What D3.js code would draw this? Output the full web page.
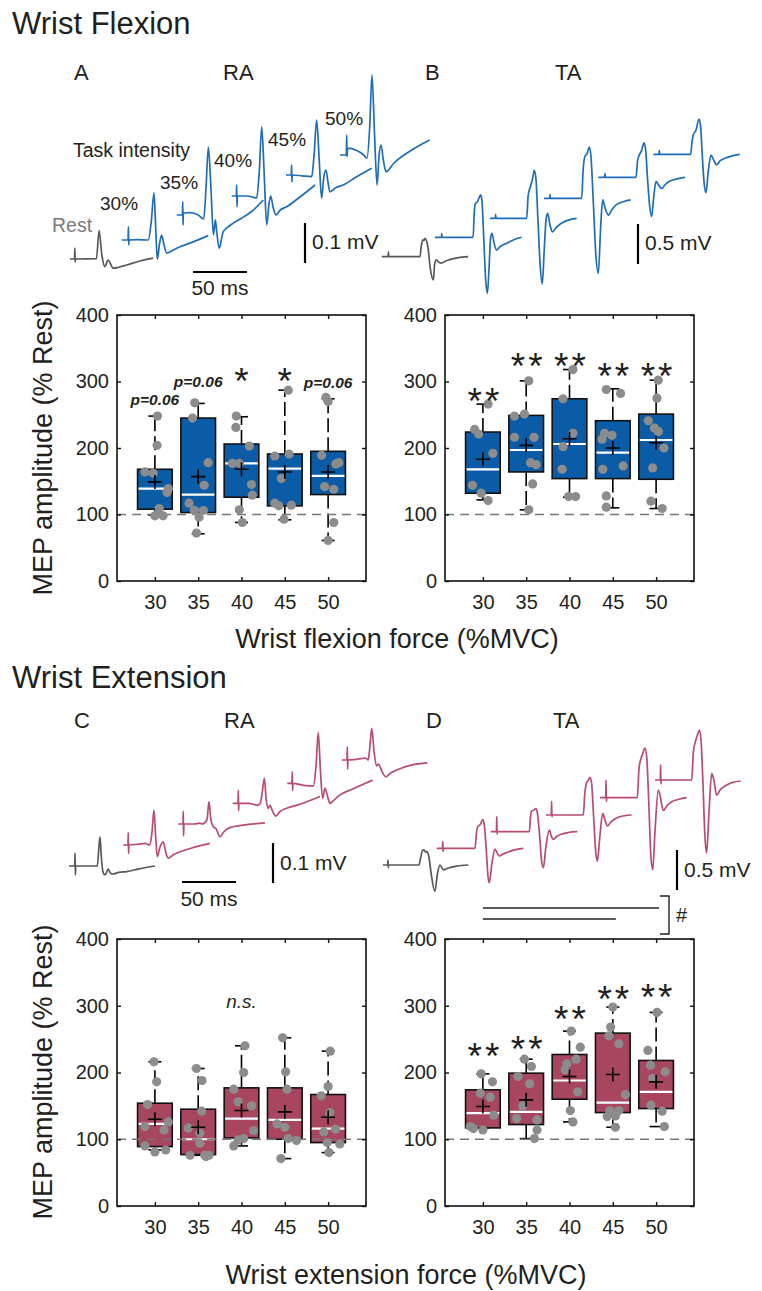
<!DOCTYPE html>
<html>
<head>
<meta charset="utf-8">
<script src="https://cdn.jsdelivr.net/npm/d3@7"></script>
<style>
  body { margin: 0; background: #fff; }
  svg { display: block; }
  text { font-family: "Liberation Sans", Arial, Helvetica, sans-serif; fill: #231f20; }
</style>
</head>
<body>
<svg id="fig" width="762" height="1291"></svg>
<script>
// ---------------- Data ----------------
const forceLevels = [30, 35, 40, 45, 50];
const yTicks = [0, 100, 200, 300, 400];

// Wrist flexion, RA: box statistics (% Rest)
const flexRaLower  = [99, 71, 88, 92, 61];
const flexRaQ1     = [108, 103, 126, 113, 130];
const flexRaMedian = [139, 130, 177, 169, 158];
const flexRaQ3     = [168, 245, 206, 191, 195];
const flexRaUpper  = [248, 267, 247, 287, 274];
const flexRaMean   = [149, 157, 168, 164, 164];
// individual subjects: [horizontal jitter (category units), value]
const flexRaPoints = [
  [[0.06,248],[0.05,204],[-0.23,164],[-0.04,162],[0.31,139],[0.28,133],[0.1,109],[0.08,102],[0,98],[0.19,98]],
  [[-0.08,268],[-0.13,245],[0.23,178],[0.14,144],[-0.21,117],[-0.09,106],[0.12,106],[0.02,96],[-0.04,72]],
  [[-0.12,248],[-0.13,231],[0.18,203],[-0.21,177],[-0.05,177],[0.23,145],[0.25,129],[-0.05,107],[0.02,88]],
  [[0.08,287],[0.1,191],[-0.23,188],[-0.08,154],[-0.23,117],[-0.14,113],[0.15,114],[-0.02,93]],
  [[-0.05,276],[0,270],[-0.15,189],[0.25,178],[0.18,176],[-0.08,142],[0.13,138],[0.13,88],[0,61]]
];
const flexRaMarks   = ["p=0.06", "p=0.06", "*", "*", "p=0.06"];
const flexRaMarkAt  = [272, 299, 313, 313, 298];

// Wrist flexion, TA
const flexTaLower  = [122, 107, 126, 110, 109];
const flexTaQ1     = [132, 164, 154, 154, 153];
const flexTaMedian = [168, 197, 206, 193, 212];
const flexTaQ3     = [224, 249, 274, 241, 251];
const flexTaUpper  = [266, 301, 318, 289, 302];
const flexTaMean   = [183, 204, 214, 200, 208];
const flexTaPoints = [
  [[0.12,266],[-0.19,228],[-0.1,221],[0.23,192],[-0.24,144],[-0.04,132],[0.12,121]],
  [[0.06,301],[-0.27,248],[-0.04,251],[-0.27,216],[0.18,216],[0.1,178],[0.23,175],[0.15,146],[0.06,107]],
  [[0.08,318],[-0.15,274],[0.08,222],[-0.15,202],[-0.17,168],[-0.02,127],[0.14,127]],
  [[-0.15,288],[0.18,282],[-0.19,222],[-0.02,219],[-0.25,213],[0.24,173],[-0.23,168],[-0.15,128],[-0.15,111]],
  [[0.05,302],[0.02,275],[-0.18,241],[-0.04,230],[0.05,225],[0.18,200],[-0.08,170],[-0.12,120],[0.14,109]]
];
const flexTaMarks  = ["**", "**", "**", "**", "**"];
const flexTaMarkAt = [282, 336, 336, 320, 321];

// Wrist extension, RA
const extRaLower  = [84, 76, 90, 71, 80];
const extRaQ1     = [89, 77, 102, 100, 95];
const extRaMedian = [123, 100, 131, 129, 116];
const extRaQ3     = [154, 145, 177, 177, 167];
const extRaUpper  = [216, 206, 240, 252, 232];
const extRaMean   = [130, 118, 143, 141, 133];
const extRaPoints = [
  [[-0.02,216],[0.04,186],[-0.17,152],[0.31,126],[0.21,114],[-0.23,119],[-0.23,90],[0,81],[0.25,84]],
  [[-0.04,206],[0.09,188],[0.08,142],[-0.23,117],[0.04,109],[-0.19,76],[0.04,94],[0.15,76],[0.25,76],[0.18,74]],
  [[0.08,240],[0.05,200],[-0.18,175],[-0.08,156],[0.23,150],[0.28,113],[0.05,101],[-0.08,99],[-0.18,90]],
  [[-0.05,252],[0.02,201],[0.05,175],[-0.18,123],[0,118],[0.08,101],[0.27,98],[-0.09,71]],
  [[0.05,232],[0,179],[-0.16,165],[0.04,140],[0.17,115],[-0.1,111],[-0.02,95],[0.27,93],[0.02,80]]
];

// Wrist extension, TA
const extTaLower  = [117, 101, 126, 118, 119];
const extTaQ1     = [117, 122, 160, 140, 146];
const extTaMedian = [139, 141, 188, 155, 171];
const extTaQ3     = [174, 199, 227, 259, 218];
const extTaUpper  = [198, 220, 262, 298, 290];
const extTaMean   = [149, 159, 194, 197, 186];
const extTaPoints = [
  [[-0.04,198],[0.22,186],[-0.06,169],[0.17,163],[0.25,136],[-0.29,119],[-0.22,116],[0,114]],
  [[-0.04,220],[0.12,209],[-0.19,194],[0.08,183],[-0.08,150],[-0.22,131],[0.25,129],[0.25,114],[0.19,101]],
  [[0.04,262],[0.25,238],[0.15,220],[-0.06,213],[-0.1,204],[0.19,171],[0.02,143],[0.08,126]],
  [[0,298],[-0.05,268],[-0.09,255],[0.14,243],[0.29,167],[-0.07,143],[0.14,143],[0.06,135],[-0.13,134],[0.06,118]],
  [[0.02,290],[-0.19,233],[-0.13,211],[0.21,201],[-0.08,191],[-0.12,151],[0.14,142],[0.19,119]]
];
const extTaMarks  = ["**", "**", "**", "**", "**"];
const extTaMarkAt = [237, 247, 292, 322, 325];

// Representative MEP traces: [time (ms), amplitude (mV)], relative to sweep start
const flexRaTraces = [
  [[0,0],[4.2,0],[4.5,0.027],[4.8,-0.008],[5.1,0],[24.5,0.001],[26.9,0.071],[29.5,0.01],[32.2,-0.019],[35.3,-0.003],[40,-0.023],[46,-0.02],[52.5,-0.015],[64.8,-0.005],[77,0.002]],
  [[0,0],[5.9,0],[6.2,0.033],[6.5,-0.0125],[6.8,0],[15,0.001],[24.6,0],[27.5,0.05],[29.9,0.118],[31.5,0.03],[33,-0.048],[35,-0.01],[37,0.0125],[39,-0.01],[41.7,-0.033],[47,-0.026],[54,-0.017],[65,-0.006],[80.2,0.011]],
  [[0,0],[5.3,0],[5.6,0.033],[5.9,-0.025],[6.2,0.005],[12,0.006],[20,0],[25,-0.01],[27,0.06],[29.3,0.17],[31.5,0.08],[34,-0.05],[35.8,-0.012],[37,-0.04],[39.4,-0.083],[43,-0.042],[50,-0.025],[60,-0.008],[70,0.01],[80.2,0.0375]],
  [[0,0],[4.3,0],[4.6,0.0275],[4.9,-0.027],[5.2,0],[15,0],[23.1,-0.005],[25.5,0.06],[27.8,0.173],[30,0.06],[32.4,-0.0725],[34.5,-0.02],[36.1,0],[38.5,-0.03],[41,-0.0475],[45,-0.035],[50.9,-0.027],[62,-0.005],[77.2,0.0275]],
  [[0,0],[4.9,0],[5.2,0.025],[5.5,-0.017],[5.8,0],[15,-0.002],[23.8,-0.004],[26,0.05],[28.4,0.1375],[30.7,0.04],[33,-0.058],[35,-0.005],[37,0.0125],[39,-0.02],[40.7,-0.042],[46,-0.032],[53,-0.025],[65,-0.005],[79.3,0.017]],
  [[0,0],[5.9,0],[6.2,0.05],[6.5,-0.004],[7,0.017],[15,0.012],[22,0],[25,-0.008],[27.5,0.07],[29.6,0.2],[32,0.05],[34.3,-0.075],[36.2,0],[38,0.025],[40,-0.01],[42.6,-0.042],[50,-0.02],[65,0.01],[83,0.0375]]
];
const flexTaTraces = [
  [[0,0],[5.9,0],[6.2,0.06],[6.5,0],[20,0],[35.5,0],[36.5,0.12],[38,0.21],[39,0.2],[40,0.23],[41.5,0.2],[43,0.1],[45,-0.15],[47.8,-0.29],[49,-0.1],[50.5,-0.04],[53,-0.07],[55,-0.08],[60,-0.05],[70,-0.015],[80,0]],
  [[0,0],[6,0],[6.2,0.05],[6.5,0],[35.3,0],[36.3,0.3],[37.3,0.42],[39.5,0.45],[41,0.5],[42.3,0.53],[43.5,0.45],[45.4,-0.1],[47,-0.55],[48.5,-0.7],[50,-0.4],[51.5,0],[52.8,0.05],[54.5,-0.06],[57,-0.16],[60,-0.12],[66.4,-0.075],[73,-0.03],[80.2,0]],
  [[0,0],[5,0],[5.2,0.05],[5.5,0],[34,0],[35.3,0.28],[37.7,0.41],[39.5,0.5],[41,0.6],[42.5,0.5],[44.5,-0.05],[46.5,-0.6],[48.4,-0.82],[50.2,-0.4],[52,0],[53.4,0.0625],[55.5,-0.08],[57.7,-0.17],[61,-0.12],[66,-0.0625],[73,-0.02],[80.2,0]],
  [[0,0],[5.4,0],[5.6,0.05],[5.9,0],[34.9,0],[36.2,0.35],[37.8,0.52],[40,0.56],[42,0.64],[43.5,0.52],[45.5,0],[48,-0.7],[50.3,-0.94],[52.5,-0.35],[54.3,-0.02],[56.5,-0.12],[59.6,-0.21],[63,-0.14],[67,-0.08],[74,-0.04],[80.3,-0.02]],
  [[0,0],[6,0],[6.2,0.05],[6.5,0],[34.9,0],[36.3,0.2],[38,0.28],[40,0.33],[42.3,0.43],[43.8,0.35],[45.5,0],[47.5,-0.35],[49.4,-0.49],[51.3,-0.25],[53.4,-0.05],[55.5,-0.09],[58.6,-0.14],[62,-0.09],[66,-0.05],[73,-0.02],[80.2,0]],
  [[0,0],[5.4,0],[5.6,0.05],[5.9,0],[34.6,0],[35.8,0.15],[37,0.24],[39.5,0.3],[42.3,0.44],[43.8,0.35],[45.3,0],[47,-0.35],[48.8,-0.48],[51,-0.2],[53.4,-0.01],[55.5,-0.06],[58.6,-0.13],[62,-0.08],[66.4,-0.05],[73,-0.02],[80,0]]
];
const extRaTraces = [
  [[0,0],[5.3,0],[5.6,0.032],[5.9,-0.0225],[6.2,0],[20,0],[26.2,0],[27.5,0.04],[28.7,0.073],[30,0.02],[31.5,-0.015],[33.3,-0.0225],[36.4,-0.008],[38.5,-0.018],[41,-0.02],[46,-0.016],[53.4,-0.014],[65,-0.007],[79.6,0]],
  [[0,0],[4.3,0],[4.6,0.031],[4.9,-0.021],[5.2,0],[14,0.002],[20,0.004],[24.5,0],[26.5,0.03],[28.4,0.0875],[30,0.02],[31.5,-0.029],[34,-0.005],[37,0.008],[39.5,-0.02],[41.7,-0.033],[46,-0.025],[52.5,-0.017],[65,-0.006],[80.2,0.004]],
  [[0,0],[4.3,0],[4.6,0.0325],[4.9,-0.03],[5.2,0],[15,0],[20,0.002],[22,0],[26.5,0.01],[28.4,0.056],[30.2,0.01],[32.4,-0.007],[35,-0.012],[38.6,-0.032],[42,-0.02],[47.8,-0.009],[60,-0.003],[80.2,0.003]],
  [[0,0],[4.9,0],[5.2,0.033],[5.5,-0.018],[5.8,0],[15,0],[23,-0.005],[25.5,0],[27.5,0.03],[29.3,0.0625],[31,0.01],[33,-0.0125],[34.5,-0.005],[37,-0.02],[39.8,-0.032],[44,-0.02],[50,-0.0125],[65,0],[80.9,0.017]],
  [[0,0],[4.3,0],[4.6,0.029],[4.9,-0.018],[5.2,0],[15,-0.005],[24,-0.007],[26.5,0.04],[28.7,0.127],[30.7,0.03],[32.7,-0.0375],[34.9,-0.0125],[37,-0.03],[39.5,-0.05],[44,-0.04],[48.8,-0.029],[60,-0.015],[79,0.008]],
  [[0,0],[4.9,0],[5.2,0.033],[5.5,-0.023],[5.8,0],[15,0.002],[22,0.005],[24.5,0],[26,0.03],[27.8,0.079],[30,0.02],[32.4,-0.015],[34,-0.01],[37.5,-0.03],[41,-0.042],[45,-0.033],[50.9,-0.025],[65,-0.012],[79.3,-0.007]]
];
const extTaTraces = [
  [[0,0],[4.3,0],[4.6,0.06],[4.9,-0.03],[5.2,0],[33.3,0],[35,0.1],[36.5,0.18],[38,0.19],[39.5,0.16],[40.7,0.17],[42.5,0.1],[44.5,-0.1],[48,-0.33],[50.5,-0.1],[52.8,0],[55.9,-0.06],[60,-0.04],[68,-0.015],[79,0]],
  [[0,0],[5.3,0],[5.6,0.083],[5.9,-0.04],[6.2,0],[35.5,0],[36.7,0.18],[38,0.27],[40.5,0.3],[42.6,0.36],[44,0.3],[45.8,0],[47.5,-0.35],[48.8,-0.43],[51,-0.2],[54,-0.01],[56,-0.06],[58,-0.096],[61,-0.075],[64.8,-0.054],[72,-0.02],[80.2,0]],
  [[0,0],[5.3,0],[5.6,0.19],[5.9,-0.03],[6.2,0],[35.8,0],[36.8,0.18],[38,0.26],[40,0.27],[41.7,0.29],[43,0.25],[45,0],[47,-0.35],[48.8,-0.45],[51,-0.2],[54.3,0.02],[56,-0.05],[58,-0.096],[61,-0.06],[65.7,-0.03],[72,-0.01],[80.2,0]],
  [[0,0],[4.9,0],[5.2,0.17],[5.5,-0.02],[5.8,0],[34.6,0],[35.8,0.25],[37.5,0.4],[39,0.43],[40.7,0.47],[42.2,0.4],[44,0],[46,-0.45],[47.5,-0.58],[50,-0.25],[52.5,0.02],[54.5,-0.06],[56.8,-0.1375],[60,-0.09],[64.8,-0.04],[72,-0.01],[79.3,0]],
  [[0,0],[5.3,0],[5.6,0.22],[5.9,-0.05],[6.2,0],[34.6,0],[36,0.35],[37.5,0.47],[39.5,0.55],[41.7,0.62],[43.3,0.5],[45,0],[47,-0.7],[48.8,-0.9],[51,-0.4],[54,0.096],[56,0],[58.6,-0.16],[62,-0.1],[66.4,-0.05],[73,-0.02],[80.2,0]],
  [[0,0],[4.9,0],[5.2,0.19],[5.5,-0.05],[5.8,0],[34,0],[35.5,0.35],[37,0.46],[39,0.55],[41,0.62],[42.6,0.5],[44.3,0],[46.2,-0.7],[47.8,-0.91],[50,-0.4],[52.5,0.083],[54.5,0],[57.1,-0.19],[60.5,-0.12],[64.8,-0.075],[72,-0.03],[79.3,-0.0125]]
];
const intensityLabels = ["30%", "35%", "40%", "45%", "50%"];

// ---------------- Layout ----------------
const BLUE_BOX = "#0b5ca7", BLUE_TRACE = "#1f6db6";
const RED_BOX = "#a8465f", RED_TRACE = "#b94c6e";
const REST_TRACE = "#595959";

const svg = d3.select("#fig");
svg.append("rect").attr("width", 762).attr("height", 1291).attr("fill", "#fff");

function txt(x, y, s, size, opts = {}) {
  const t = svg.append("text").attr("x", x).attr("y", y).text(s)
    .attr("font-size", size);
  if (opts.anchor) t.attr("text-anchor", opts.anchor);
  if (opts.weight) t.attr("font-weight", opts.weight);
  if (opts.style) t.attr("font-style", opts.style);
  if (opts.fill) t.style("fill", opts.fill);
  if (opts.transform) t.attr("transform", opts.transform);
  return t;
}

// ---------- MEP trace panels ----------
const timeScale = d3.scaleLinear().domain([0, 50]).range([0, 54]);
const raVolt = d3.scaleLinear().domain([0, 0.1]).range([0, -40]);
const taVolt = d3.scaleLinear().domain([0, 0.5]).range([0, -40]);

function tracePanel(traces, origins, vScale, color) {
  const line = d3.line().x(d => timeScale(d[0])).y(d => vScale(d[1])).curve(d3.curveMonotoneX);
  traces.forEach((tr, i) => {
    svg.append("path")
      .attr("transform", `translate(${origins[i][0]},${origins[i][1]})`)
      .attr("d", line(tr))
      .attr("fill", "none")
      .attr("stroke", i === 0 ? REST_TRACE : color)
      .attr("stroke-width", 1.7)
      .attr("stroke-linejoin", "round");
  });
}
function timeBar(x, y, labelY) {
  svg.append("line").attr("x1", x).attr("x2", x + timeScale(50)).attr("y1", y).attr("y2", y)
    .attr("stroke", "#000").attr("stroke-width", 2.2);
  txt(x + timeScale(50) / 2, labelY, "50 ms", 21, { anchor: "middle" });
}
function voltBar(x, yBottom, vScale, amount, label, labelY) {
  svg.append("line").attr("x1", x).attr("x2", x).attr("y1", yBottom).attr("y2", yBottom + vScale(amount))
    .attr("stroke", "#000").attr("stroke-width", 2.2);
  txt(x + 7, labelY, label, 21);
}

// Titles and panel letters
txt(12, 34, "Wrist Flexion", 31);
txt(12, 688, "Wrist Extension", 31);
txt(74, 80, "A", 22); txt(223, 80, "RA", 22);
txt(425, 80, "B", 22); txt(555, 80, "TA", 22);
txt(74, 728, "C", 22); txt(224, 728, "RA", 22);
txt(426, 728, "D", 22); txt(553, 728, "TA", 22);

tracePanel(flexRaTraces, [[70,259],[121.7,240],[176.7,215],[231.7,196],[286,175],[340,155]], raVolt, BLUE_TRACE);
tracePanel(flexTaTraces, [[381.7,256.7],[435,237.3],[490,218.3],[544,198.3],[598.3,177.3],[653.3,154.3]], taVolt, BLUE_TRACE);
tracePanel(extRaTraces, [[69,866],[123.3,845],[178.3,824],[232.7,803.3],[287.3,783.3],[341.7,760]], raVolt, RED_TRACE);
tracePanel(extTaTraces, [[383,865],[436.7,848.3],[490.7,831.7],[546,815],[600,797.7],[655,780]], taVolt, RED_TRACE);

// Intensity labels for panel A
txt(73, 157, "Task intensity", 19.5);
txt(52, 232, "Rest", 19.5, { fill: "#7a7a7a" });
[[100,210],[160,189],[214,167],[268,146],[325,125]].forEach((p, i) => txt(p[0], p[1], intensityLabels[i], 19));

// Scale bars
timeBar(193, 272, 295);
voltBar(305, 263, raVolt, 0.1, "0.1 mV", 249);
voltBar(638, 264, taVolt, 0.5, "0.5 mV", 250);
timeBar(182, 882, 906);
voltBar(273, 883, raVolt, 0.1, "0.1 mV", 870);
voltBar(677, 890, taVolt, 0.5, "0.5 mV", 877);

// ---------- Box plot panels ----------
function boxPanel(frame, lower, q1, med, q3, upper, mean, points, color) {
  const x = d3.scaleLinear().domain([0.125, 5.875]).range([frame.left, frame.right]);
  const y = d3.scaleLinear().domain([0, 400]).range([frame.bottom, frame.top]);
  const g = svg.append("g");
  const pos = i => x(i + 1);
  const half = x(0.4) - x(0);
  const cap = 6.5;

  forceLevels.forEach((lvl, i) => {
    const cx = pos(i);
    // whiskers
    [[q3[i], upper[i]], [q1[i], lower[i]]].forEach(([a, b]) => {
      g.append("line").attr("x1", cx).attr("x2", cx).attr("y1", y(a)).attr("y2", y(b))
        .attr("stroke", "#000").attr("stroke-width", 1.6).attr("stroke-dasharray", "14,5");
      g.append("line").attr("x1", cx - cap).attr("x2", cx + cap).attr("y1", y(b)).attr("y2", y(b))
        .attr("stroke", "#000").attr("stroke-width", 1.6);
    });
    // box
    g.append("rect").attr("x", cx - half).attr("width", 2 * half)
      .attr("y", y(q3[i])).attr("height", y(q1[i]) - y(q3[i]))
      .attr("fill", color).attr("stroke", "#111").attr("stroke-width", 1.6);
    g.append("line").attr("x1", cx - half + 1).attr("x2", cx + half - 1)
      .attr("y1", y(med[i])).attr("y2", y(med[i]))
      .attr("stroke", "#fff").attr("stroke-width", 2.2);
  });

  // reference line at resting level
  g.append("line").attr("x1", frame.left).attr("x2", frame.right).attr("y1", y(100)).attr("y2", y(100))
    .attr("stroke", "#767676").attr("stroke-width", 1.7).attr("stroke-dasharray", "9,6");

  forceLevels.forEach((lvl, i) => {
    g.selectAll(null).data(points[i]).join("circle")
      .attr("cx", d => pos(i) + (x(d[0]) - x(0))).attr("cy", d => y(d[1]))
      .attr("r", 4.6).attr("fill", "#8c8c8c");
  });
  forceLevels.forEach((lvl, i) => {
    const cx = pos(i), cy = y(mean[i]);
    g.append("path").attr("d", `M${cx - 7},${cy}H${cx + 7}M${cx},${cy - 7}V${cy + 7}`)
      .attr("stroke", "#000").attr("stroke-width", 1.6);
  });

  // axes with inward ticks on all four sides
  const left = g.append("g").attr("transform", `translate(${frame.left},0)`)
    .call(d3.axisLeft(y).tickValues(yTicks).tickSizeInner(-4).tickSizeOuter(0).tickPadding(8));
  const right = g.append("g").attr("transform", `translate(${frame.right},0)`)
    .call(d3.axisRight(y).tickValues(yTicks).tickSizeInner(-4).tickSizeOuter(0).tickFormat(""));
  const bottom = g.append("g").attr("transform", `translate(0,${frame.bottom})`)
    .call(d3.axisBottom(x).tickValues([1, 2, 3, 4, 5]).tickFormat((d, i) => forceLevels[i])
      .tickSizeInner(-4).tickSizeOuter(0).tickPadding(14));
  const top = g.append("g").attr("transform", `translate(0,${frame.top})`)
    .call(d3.axisTop(x).tickValues([1, 2, 3, 4, 5]).tickFormat("").tickSizeInner(-4).tickSizeOuter(0));
  [left, right, bottom, top].forEach(a => {
    a.select(".domain").remove();
    a.selectAll(".tick line").attr("stroke", "#111").attr("stroke-width", 1.4);
    a.selectAll("text").attr("font-size", 20).attr("font-family", '"Liberation Sans", Arial, sans-serif')
      .style("fill", "#231f20");
  });
  g.append("rect").attr("x", frame.left).attr("y", frame.top)
    .attr("width", frame.right - frame.left).attr("height", frame.bottom - frame.top)
    .attr("fill", "none").attr("stroke", "#111").attr("stroke-width", 1.6);
  return { x, y, pos };
}

function marks(panel, labels, heights) {
  labels.forEach((s, i) => {
    const cx = panel.pos(i), cy = panel.y(heights[i]);
    if (s.startsWith("p")) {
      txt(cx, cy + 5, s, 15.5, { anchor: "middle", weight: "bold", style: "italic" });
    } else {
      txt(cx + (s.length > 1 ? 2 : 0), cy + 21, s, 37, { anchor: "middle" })
        .attr("letter-spacing", s.length > 1 ? 3 : 0);
    }
  });
}

const pA = boxPanel({ left: 117, right: 366, top: 315, bottom: 581 },
  flexRaLower, flexRaQ1, flexRaMedian, flexRaQ3, flexRaUpper, flexRaMean, flexRaPoints, BLUE_BOX);
const pB = boxPanel({ left: 445, right: 694, top: 315, bottom: 581 },
  flexTaLower, flexTaQ1, flexTaMedian, flexTaQ3, flexTaUpper, flexTaMean, flexTaPoints, BLUE_BOX);
const pC = boxPanel({ left: 117, right: 366, top: 939, bottom: 1206 },
  extRaLower, extRaQ1, extRaMedian, extRaQ3, extRaUpper, extRaMean, extRaPoints, RED_BOX);
const pD = boxPanel({ left: 445, right: 694, top: 939, bottom: 1206 },
  extTaLower, extTaQ1, extTaMedian, extTaQ3, extTaUpper, extTaMean, extTaPoints, RED_BOX);

marks(pA, flexRaMarks, flexRaMarkAt);
marks(pB, flexTaMarks, flexTaMarkAt);
marks(pD, extTaMarks, extTaMarkAt);
txt(pC.pos(2), pC.y(307) + 7, "n.s.", 19, { anchor: "middle", style: "italic" });

// Trend brackets above panel D (30 vs 45/50 %MVC)
const brackets = [[1, 5, 908], [1, 4, 919]];
brackets.forEach(([a, b, yy]) => {
  svg.append("line").attr("x1", pD.pos(a - 1)).attr("x2", pD.pos(b - 1) + 3).attr("y1", yy).attr("y2", yy)
    .attr("stroke", "#222").attr("stroke-width", 1.4);
});
svg.append("path").attr("d", "M660,896H669V934H660").attr("fill", "none")
  .attr("stroke", "#222").attr("stroke-width", 1.4);
txt(676, 922, "#", 20);

// Axis titles
txt(52, 448, "MEP amplitude (% Rest)", 27, { anchor: "middle", transform: "rotate(-90,52,448)" });
txt(52, 1072, "MEP amplitude (% Rest)", 27, { anchor: "middle", transform: "rotate(-90,52,1072)" });
txt(397, 648, "Wrist flexion force (%MVC)", 27, { anchor: "middle" });
txt(406, 1284, "Wrist extension force (%MVC)", 27, { anchor: "middle" });
</script>
</body>
</html>
